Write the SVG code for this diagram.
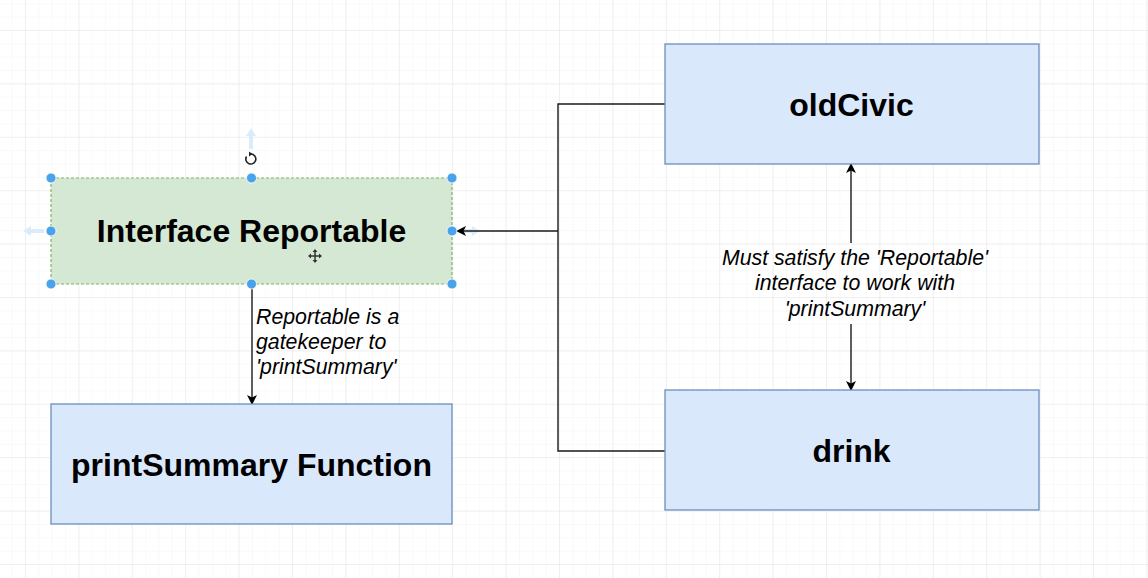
<svg xmlns="http://www.w3.org/2000/svg" width="1148" height="578" viewBox="0 0 1148 578">
<style>
.blue{fill:#dae8fc;stroke:#6c8ebf;stroke-width:1.3}
.green{fill:#d5e8d4;stroke:#82b366;stroke-width:1.2;stroke-dasharray:3 2}
.title{font-family:"Liberation Sans",Arial,sans-serif;font-weight:bold;font-size:32px;fill:#000;text-anchor:middle}
.lbl{font-family:"Liberation Sans",Arial,sans-serif;font-style:italic;font-size:21.3px;fill:#000}
.edge{fill:none;stroke:#1a1a1a;stroke-width:1.4}
.handle{fill:#4aa3ea;stroke:#fff;stroke-width:0.8}
.hover{fill:#dcebfa}
</style>
<defs>
<pattern id="minor" width="13.35" height="13.35" patternUnits="userSpaceOnUse" x="25" y="30">
<path d="M0 0H13.35M0 0V13.35" fill="none" stroke="#f3f3f3" stroke-width="1"/>
</pattern>
<pattern id="major" width="53.4" height="53.4" patternUnits="userSpaceOnUse" x="25" y="30">
<path d="M0 0H53.4M0 0V53.4" fill="none" stroke="#e6e6e6" stroke-width="1"/>
</pattern>
<marker id="arr" viewBox="0 0 10 10" refX="9" refY="5" markerWidth="10" markerHeight="10" markerUnits="userSpaceOnUse" orient="auto-start-reverse">
<path d="M0 0L10 5L0 10L2.5 5Z" fill="#000"/>
</marker>
</defs>
<rect width="1148" height="578" fill="#fff"/>
<rect width="1148" height="578" fill="url(#minor)"/>
<rect width="1148" height="578" fill="url(#major)"/>

<g id="hover-right">
<path class="hover" d="M480 231L472 226V229H459V233H472V236Z"/>
</g>

<g id="connectors">
<path class="edge" d="M665 104H558V451H665"/>
<path class="edge" d="M558 231H457" marker-end="url(#arr)"/>
<path class="edge" d="M252 284V404" marker-end="url(#arr)"/>
<path class="edge" d="M851 243V164" marker-end="url(#arr)"/>
<path class="edge" d="M851 324V390" marker-end="url(#arr)"/>
<text class="lbl" x="256" y="324">Reportable is a</text>
<text class="lbl" x="256" y="349">gatekeeper to</text>
<text class="lbl" x="256" y="374">'printSummary'</text>
<text class="lbl" x="855" y="265" text-anchor="middle">Must satisfy the 'Reportable'</text>
<text class="lbl" x="855" y="290" text-anchor="middle">interface to work with</text>
<text class="lbl" x="855" y="316" text-anchor="middle">'printSummary'</text>
</g>

<g id="interface-reportable">
<rect class="green" x="51" y="178" width="401" height="106"/>
<text class="title" x="251.5" y="242">Interface Reportable</text>
</g>

<g id="print-summary">
<rect class="blue" x="51" y="404" width="401" height="120"/>
<text class="title" x="251.5" y="476">printSummary Function</text>
</g>

<g id="old-civic">
<rect class="blue" x="665" y="44" width="374" height="120"/>
<text class="title" x="851.5" y="116">oldCivic</text>
</g>

<g id="drink">
<rect class="blue" x="665" y="390" width="374" height="120"/>
<text class="title" x="851.5" y="462">drink</text>
</g>

<g id="selection">
<path class="hover" d="M251 128L256 136H253V149H249V136H246Z"/>
<path class="hover" d="M23 231L31 226V229H44V233H31V236Z"/>
<path d="M246.5 156.5A5 5 0 1 0 251 154" fill="none" stroke="#222" stroke-width="1.6"/>
<path d="M249 151.5L252.5 154L249 156.5Z" fill="#222"/>
<circle class="handle" cx="51" cy="178" r="5"/>
<circle class="handle" cx="251.5" cy="178" r="5"/>
<circle class="handle" cx="452" cy="178" r="5"/>
<circle class="handle" cx="51" cy="231" r="5"/>
<circle class="handle" cx="452" cy="231" r="5"/>
<circle class="handle" cx="51" cy="284" r="5"/>
<circle class="handle" cx="251.5" cy="284" r="5"/>
<circle class="handle" cx="452" cy="284" r="5"/>
<path d="M315 250V262M309 256H321" stroke="#333" stroke-width="1.5"/>
<path d="M315 249L312.5 252H317.5ZM315 263L312.5 260H317.5ZM308 256L311 253.5V258.5ZM322 256L319 253.5V258.5Z" fill="#333"/>
</g>
</svg>
